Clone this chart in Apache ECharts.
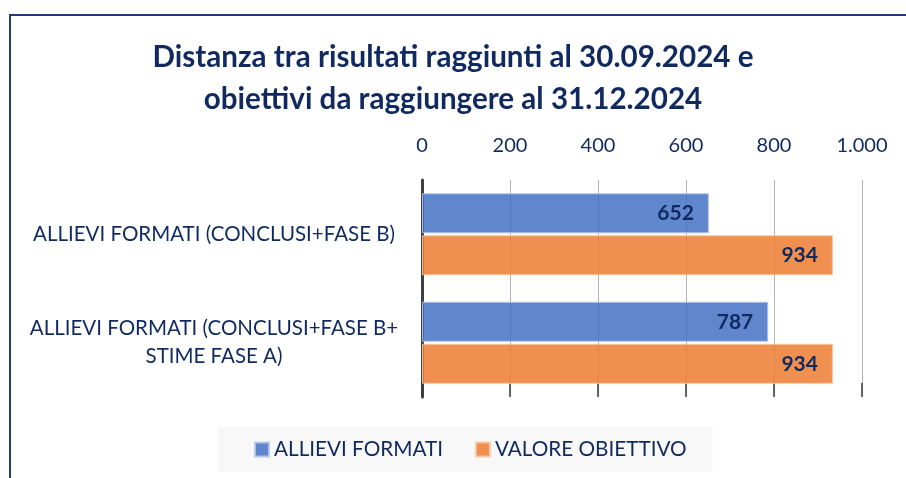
<!DOCTYPE html>
<html>
<head>
<meta charset="utf-8">
<script src="https://cdn.jsdelivr.net/npm/echarts@6/dist/echarts.min.js"></script>
<style>
  html, body { margin: 0; padding: 0; background: #fff; }
  #chart { width: 906px; height: 478px; }
</style>
</head>
<body>
<div id="chart"></div>
<script>
// dati
const categories = [
  'ALLIEVI FORMATI (CONCLUSI+FASE B)',
  'ALLIEVI FORMATI (CONCLUSI+FASE B+\nSTIME FASE A)'
]
const allieviFormati = [652, 787]
const valoreObiettivo = [934, 934]
const xTicks = [0, 200, 400, 600, 800, 1000]

const navy = '#10295f'
const font = 'Lato'

function fmt(v) {
  return String(v).replace(/\B(?=(\d{3})+(?!\d))/g, '.')
}

const chart = echarts.init(document.getElementById('chart'))

chart.setOption({
  animation: false,
  textStyle: { fontFamily: font },
  title: {
    text: 'Distanza tra risultati raggiunti al 30.09.2024 e\nobiettivi da raggiungere al 31.12.2024',
    left: 'center',
    top: 31,
    textStyle: {
      fontFamily: font,
      fontWeight: 'bold',
      fontSize: 29.6,
      lineHeight: 42,
      color: navy
    }
  },
  graphic: [
    {
      type: 'rect',
      shape: { x: 10, y: 15, width: 1000, height: 1000 },
      style: { fill: 'none', stroke: '#1f3c7a', lineWidth: 2 },
      z: 100
    }
  ],
  legend: {
    data: ['ALLIEVI FORMATI', 'VALORE OBIETTIVO'],
    left: 218,
    top: 427,
    padding: [12, 26, 12, 36],
    backgroundColor: '#f8f8f8',
    itemWidth: 14,
    itemHeight: 14,
    itemGap: 32,
    icon: 'rect',
    textStyle: { color: navy, fontSize: 20.7, fontFamily: font, lineHeight: 21 }
  },
  grid: { left: 422, right: 44, top: 180, bottom: 81 },
  xAxis: [
    {
      type: 'value',
      position: 'top',
      min: xTicks[0],
      max: xTicks[xTicks.length - 1],
      interval: 200,
      axisLine: { show: false },
      axisTick: { show: false },
      axisLabel: {
        color: navy,
        fontSize: 20,
        margin: 24,
        formatter: fmt
      },
      splitLine: { show: true, lineStyle: { color: '#b4b4b4', width: 1 } }
    },
    {
      type: 'value',
      position: 'bottom',
      min: xTicks[0],
      max: xTicks[xTicks.length - 1],
      interval: 200,
      axisLine: { show: false },
      axisTick: { show: true, inside: true, length: 14, lineStyle: { color: '#3a3a3a', width: 1.5 } },
      axisLabel: { show: false },
      splitLine: { show: false }
    }
  ],
  yAxis: {
    type: 'category',
    data: categories,
    inverse: true,
    axisLine: { show: true, lineStyle: { color: '#404040', width: 3 } },
    axisTick: { show: false },
    axisLabel: {
      color: navy,
      fontSize: 20.5,
      lineHeight: 28,
      align: 'center',
      margin: 208
    }
  },
  series: [
    {
      name: 'ALLIEVI FORMATI',
      type: 'bar',
      data: allieviFormati,
      barWidth: 40,
      barGap: '5%',
      itemStyle: {
        color: 'rgba(68,114,196,0.85)',
        borderColor: 'rgba(180,200,235,0.9)',
        borderWidth: 1
      },
      label: {
        show: true,
        position: 'insideRight',
        distance: 15,
        color: navy,
        fontWeight: 'bold',
        fontSize: 21,
        fontFamily: font
      }
    },
    {
      name: 'VALORE OBIETTIVO',
      type: 'bar',
      data: valoreObiettivo,
      barWidth: 40,
      itemStyle: {
        color: 'rgba(237,125,49,0.85)',
        borderColor: 'rgba(248,200,165,0.9)',
        borderWidth: 1
      },
      label: {
        show: true,
        position: 'insideRight',
        distance: 15,
        color: navy,
        fontWeight: 'bold',
        fontSize: 21,
        fontFamily: font
      }
    }
  ]
})
</script>
</body>
</html>
